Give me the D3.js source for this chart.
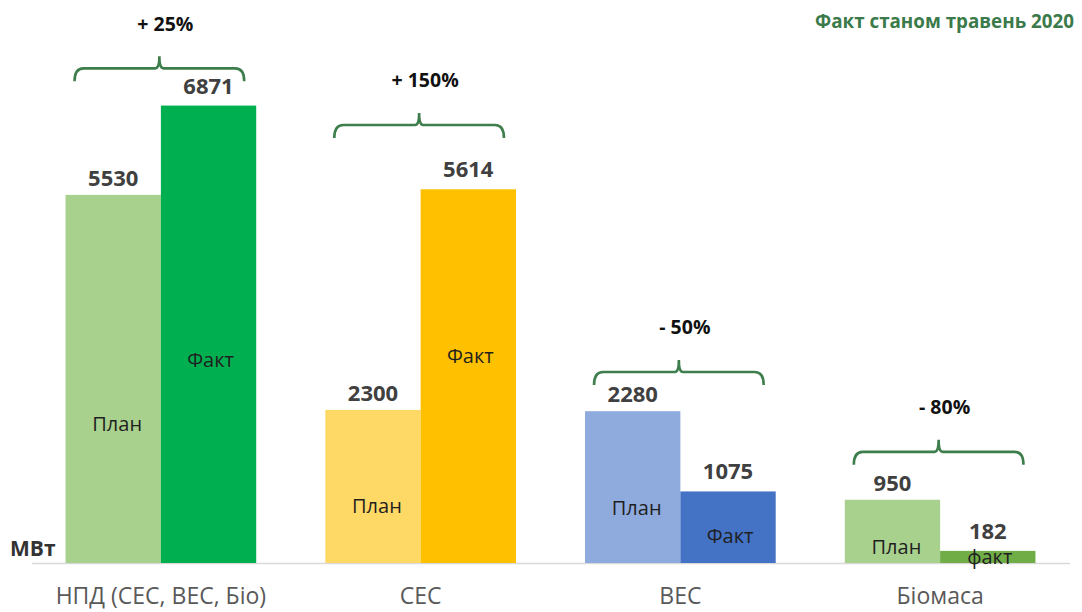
<!DOCTYPE html>
<html>
<head>
<meta charset="utf-8">
<script src="https://cdn.jsdelivr.net/npm/d3@7"></script>
<style>
  html, body { margin: 0; padding: 0; background: #fff; }
  svg { display: block; font-family: "Open Sans", "DejaVu Sans", sans-serif; }
</style>
</head>
<body>
<svg id="chart" width="1082" height="612"></svg>
<script>
// Installed capacity, MW: plan vs actual (May 2020)
const categories = ["НПД (СЕС, ВЕС, Біо)", "СЕС", "ВЕС", "Біомаса"];
const planValues = [5530, 2300, 2280, 950];
const factValues = [6871, 5614, 1075, 182];
const changeLabels = ["+ 25%", "+ 150%", "- 50%", "- 80%"];
const planNames = ["План", "План", "План", "План"];
const factNames = ["Факт", "Факт", "Факт", "факт"];
const title = "Факт станом травень 2020";
const unitLabel = "МВт";

// Colours per category
const planColors = ["#a9d18e", "#ffd966", "#8faadc", "#a9d18e"];
const factColors = ["#00b050", "#ffc000", "#4472c4", "#70ad47"];

// Annotation anchors expressed in MW on the value axis
const bracketLevel = [7430, 6580, 2870, 1670];
const planNameLevel = [2090, 870, 830, 255];
const factNameLevel = [3050, 3110, 420, 95];

const svg = d3.select("#chart");
const baseY = 563;

const x = d3.scaleBand()
  .domain(categories)
  .range([31, 1070])
  .paddingInner(0.266)
  .paddingOuter(0.133);

const sub = d3.scaleBand()
  .domain(["plan", "fact"])
  .range([0, x.bandwidth()]);

const y = d3.scaleLinear()
  .domain([0, 7000])
  .range([baseY, baseY - 466]);

// Baseline
svg.append("line")
  .attr("x1", 32).attr("x2", 1070)
  .attr("y1", baseY + 0.5).attr("y2", baseY + 0.5)
  .attr("stroke", "#d9d9d9").attr("stroke-width", 1.5);

// Category axis (labels only)
const xAxis = d3.axisBottom(x).tickSize(0).tickPadding(25);
const gx = svg.append("g").attr("transform", `translate(0,${baseY})`).call(xAxis);
gx.select(".domain").remove();
gx.selectAll("text")
  .attr("font-family", "Open Sans, sans-serif")
  .attr("font-size", 23)
  .attr("fill", "#595959");

const rows = categories.map((c, i) => ({
  c, i,
  plan: planValues[i], fact: factValues[i]
}));

const groups = svg.append("g").selectAll("g")
  .data(rows).join("g")
  .attr("transform", d => `translate(${x(d.c)},0)`);

// Bars
groups.append("rect")
  .attr("x", sub("plan")).attr("width", sub.bandwidth())
  .attr("y", d => y(d.plan)).attr("height", d => y(0) - y(d.plan))
  .attr("fill", d => planColors[d.i]);

groups.append("rect")
  .attr("x", sub("fact")).attr("width", sub.bandwidth())
  .attr("y", d => y(d.fact)).attr("height", d => y(0) - y(d.fact))
  .attr("fill", d => factColors[d.i]);

// Value labels above bars
const valStyle = sel => sel
  .attr("text-anchor", "middle")
  .attr("font-size", 22)
  .attr("font-weight", 700)
  .attr("fill", "#404040");

groups.append("text")
  .attr("x", sub("plan") + sub.bandwidth() / 2)
  .attr("y", d => y(d.plan) - 9)
  .text(d => d.plan)
  .call(valStyle);

groups.append("text")
  .attr("x", sub("fact") + sub.bandwidth() / 2)
  .attr("y", d => y(d.fact) - 12)
  .text(d => d.fact)
  .call(valStyle);

// Names inside bars
const nameStyle = sel => sel
  .attr("text-anchor", "middle")
  .attr("dominant-baseline", "central")
  .attr("font-size", 20)
  .attr("fill", "#1f1f1f");

groups.append("text")
  .attr("x", sub("plan") + sub.bandwidth() / 2 + 4)
  .attr("y", d => y(planNameLevel[d.i]))
  .text(d => planNames[d.i])
  .call(nameStyle);

groups.append("text")
  .attr("x", sub("fact") + sub.bandwidth() / 2 + 2)
  .attr("y", d => y(factNameLevel[d.i]))
  .text(d => factNames[d.i])
  .call(nameStyle);

// Brackets with change percentages
function bracketPath(x0, x1, yy) {
  const xm = (x0 + x1) / 2;
  return `M${x0},${yy + 13} Q${x0},${yy} ${x0 + 9},${yy} H${xm - 4} Q${xm},${yy} ${xm},${yy - 12}` +
         ` Q${xm},${yy} ${xm + 4},${yy} H${x1 - 9} Q${x1},${yy} ${x1},${yy + 13}`;
}

groups.append("path")
  .attr("d", d => bracketPath(9, x.bandwidth() - 12, y(bracketLevel[d.i])))
  .attr("fill", "none")
  .attr("stroke", "#3e7d4c")
  .attr("stroke-width", 2.6);

groups.append("text")
  .attr("x", (x.bandwidth() - 3) / 2 + 6)
  .attr("y", d => y(bracketLevel[d.i]) - 45)
  .attr("dominant-baseline", "central")
  .attr("text-anchor", "middle")
  .attr("font-size", 19.5)
  .attr("font-weight", 700)
  .attr("fill", "#111")
  .text(d => changeLabels[d.i]);

// Title
svg.append("text")
  .attr("x", 1074).attr("y", 21)
  .attr("text-anchor", "end")
  .attr("dominant-baseline", "central")
  .attr("font-size", 18.8)
  .attr("font-weight", 700)
  .attr("fill", "#3b7a4a")
  .text(title);

// Unit label
svg.append("text")
  .attr("x", 10).attr("y", 548)
  .attr("dominant-baseline", "central")
  .attr("font-size", 21)
  .attr("font-weight", 700)
  .attr("fill", "#333")
  .text(unitLabel);
</script>
</body>
</html>
